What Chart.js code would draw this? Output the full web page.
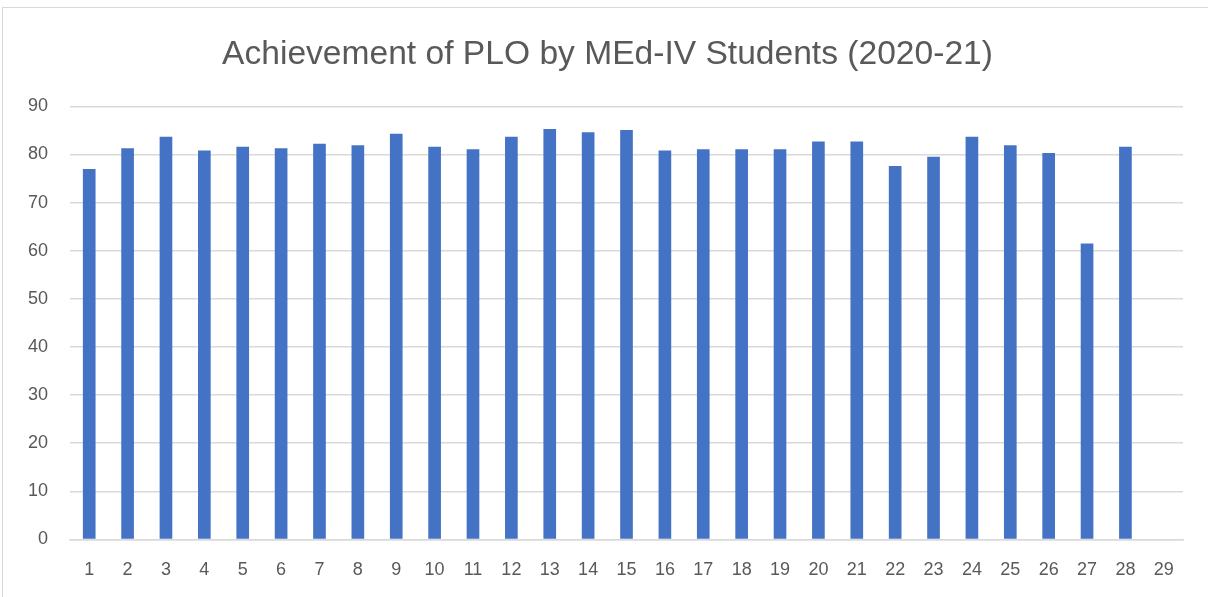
<!DOCTYPE html>
<html>
<head>
<meta charset="utf-8">
<script src="https://cdn.jsdelivr.net/npm/chart.js@4"></script>
<style>
  html, body { margin: 0; padding: 0; background: #fff; }
  .frame { position: absolute; left: 2px; top: 7px; width: 1220px; height: 600px; border: 1px solid #d9d9d9; }
  .chart-container { position: absolute; left: 0; top: 0; width: 1208px; height: 597px; }
</style>
</head>
<body>
<div class="frame"></div>
<div class="chart-container"><canvas id="ploChart" width="1208" height="597"></canvas></div>
<script>
// PLO numbers and achievement (%)
const ploLabels = ["1","2","3","4","5","6","7","8","9","10","11","12","13","14","15","16","17","18","19","20","21","22","23","24","25","26","27","28","29"];
const achievement = [77.0, 81.3, 83.7, 80.8, 81.6, 81.3, 82.2, 81.9, 84.3, 81.6,
                     81.1, 83.7, 85.3, 84.6, 85.1, 80.8, 81.1, 81.1, 81.1, 82.7,
                     82.7, 77.6, 79.5, 83.7, 81.9, 80.3, 61.5, 81.6, null];
const yTicks = [0, 10, 20, 30, 40, 50, 60, 70, 80, 90];

const textColor = '#595959';
const gridColor = '#d9d9d9';

// centre the title on the whole canvas instead of the padded box
const centerTitle = {
    id: 'centerTitle',
    afterLayout(chart) {
        if (chart.titleBlock) {
            chart.titleBlock.left = 32;
            chart.titleBlock.right = 1183;
        }
    }
};

new Chart(document.getElementById('ploChart').getContext('2d'), {
    type: 'bar',
    data: {
        labels: ploLabels,
        datasets: [{
            label: 'Achievement',
            data: achievement,
            backgroundColor: '#4472c4',
            borderWidth: 0,
            barPercentage: 0.66,
            categoryPercentage: 0.5
        }]
    },
    options: {
        responsive: false,
        animation: false,
        layout: {
            padding: { left: 6, right: 25, top: 12, bottom: 4 }
        },
        scales: {
            x: {
                grid: { display: false },
                border: { display: true, color: gridColor, width: 1.5 },
                ticks: {
                    color: textColor,
                    font: { family: 'Liberation Sans', size: 18 },
                    padding: 12,
                    maxRotation: 0,
                    autoSkip: false
                }
            },
            y: {
                min: 0,
                max: 90,
                afterBuildTicks: axis => { axis.ticks = yTicks.map(v => ({ value: v })); },
                grid: { color: gridColor, lineWidth: 1.5, drawTicks: false },
                border: { display: false },
                ticks: {
                    color: textColor,
                    font: { family: 'Liberation Sans', size: 18 },
                    padding: 22
                }
            }
        },
        plugins: {
            legend: { display: false },
            tooltip: { enabled: false },
            title: {
                display: true,
                text: 'Achievement of PLO by MEd-IV Students (2020-21)',
                color: textColor,
                font: { family: 'Liberation Sans', size: 33.6, weight: 'normal' },
                padding: { top: 23, bottom: 31 }
            }
        }
    },
    plugins: [centerTitle]
});
</script>
</body>
</html>
